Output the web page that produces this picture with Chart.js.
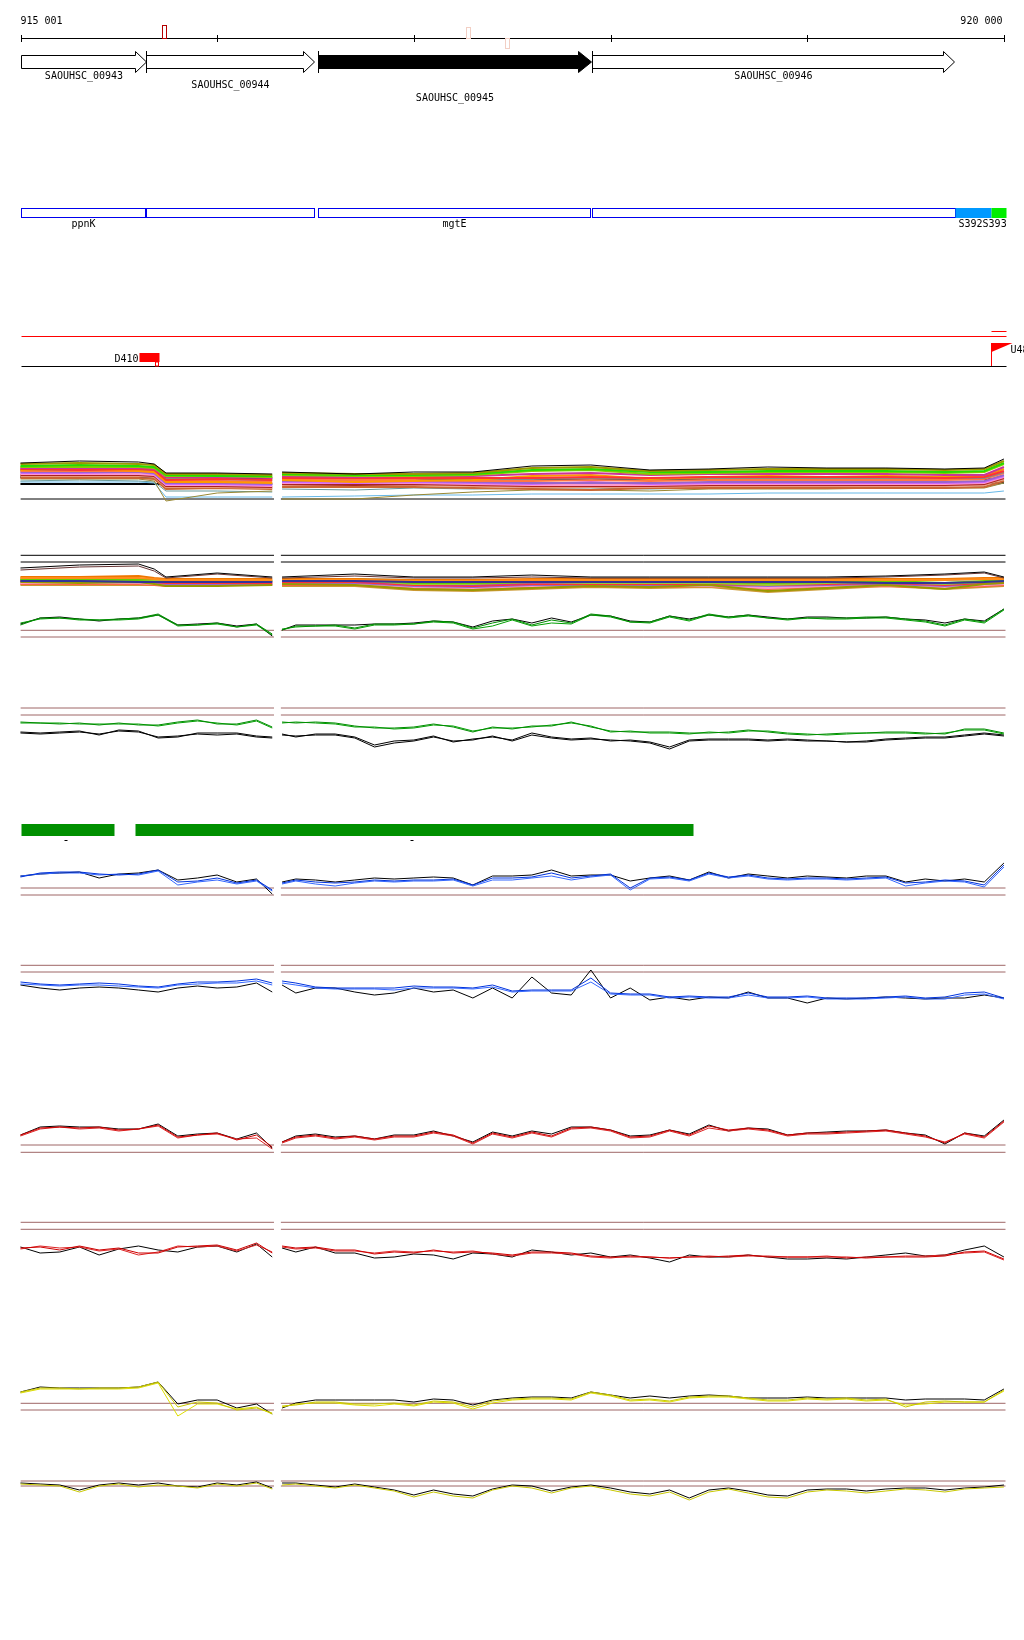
<!DOCTYPE html>
<html>
<head>
<meta charset="utf-8">
<title>SAOUHSC_00945 region</title>
<script src="https://cdn.jsdelivr.net/npm/chart.js@4.4.1/dist/chart.umd.min.js"></script>
<style>
  html, body { margin: 0; padding: 0; background: #fff; }
  body { position: relative; width: 1024px; height: 1640px; overflow: hidden; }
  canvas { position: absolute; left: 0; }
</style>
</head>
<body>
<script>
// window shown on the page (bp); the ruler itself runs 915 001 - 920 000
const viewMin = 914896;
const viewMax = 920102;

// ruler
const rulerStart = 915001;
const rulerEnd = 920000;
const rulerTicks = [915001, 916000, 917000, 918000, 919000, 920000];
const rulerLabels = ["915 001", "920 000"];

// variant marks sitting on the ruler
const markPos = [915721, 917265, 917463];

// genes
const geneNames = ["SAOUHSC_00943", "SAOUHSC_00944", "SAOUHSC_00945", "SAOUHSC_00946"];
const geneStart = [915001, 915636, 916512, 917905];
const geneEnd = [915638, 916492, 917899, 919746];

// operon / gene-name boxes
const operonNames = ["ppnK", "", "mgtE", ""];
const operonStart = [915001, 915640, 916513, 917904];
const operonEnd = [915633, 916490, 917898, 919751];
const featStart = [919751, 919934];
const featEnd = [919934, 920008];
const featLabel = "S392S393";

// transcription starts
const tssNames = ["D410", "U48"];
const tssStart = [915602, 919934];
const tssEnd = [915703, 920040];

// green blocks
const blockStart = [915001, 915582];
const blockEnd = [915476, 918419];
const blockMid = [915226, 916988];

// sampling positions of the profile tracks (916300 = gap between the two pieces)
const posFine = [915000, 915100, 915200, 915300, 915400, 915500, 915600, 915700, 915800, 915900, 916000, 916100, 916200, 916280,
  916300,
  916330, 916400, 916500, 916600, 916700, 916800, 916900, 917000, 917100, 917200, 917300, 917400, 917500, 917600, 917700,
  917800, 917900, 918000, 918100, 918200, 918300, 918400, 918500, 918600, 918700, 918800, 918900, 919000, 919100, 919200,
  919300, 919400, 919500, 919600, 919700, 919800, 919900, 920000];
const posCoarse = [915000, 915300, 915600, 915680, 915740, 916000, 916280, 916300, 916330, 916700, 917000, 917300, 917600,
  917900, 918200, 918500, 918800, 919100, 919400, 919700, 919900, 920000];
const refPos = [915001, 916289, 916300, 916324, 920008];

// track 1 - many samples
const t1Black = [42, 44, 43, 41, 32, 32, 31, null, 33, 31, 33, 33, 39, 40, 35, 36, 38, 37, 37, 36, 37, 46];
const t1Olive = [41, 42, 41, 40, 31, 31, 30, null, 32, 31, 31, 32, 37, 38, 34, 35, 36, 36, 36, 35, 36, 44];
const t1Green = [39, 40, 39, 38, 30, 29, 29, null, 31, 30, 30, 31, 35, 36, 33, 33, 34, 34, 34, 33, 34, 42];
const t1Lime = [38, 38, 38, 37, 29, 29, 28, null, 30, 29, 29, 30, 34, 35, 31, 32, 33, 33, 33, 32, 33, 41];
const t1Magenta = [37, 37, 37, 36, 28, 28, 27, null, 29, 28, 29, 29, 31, 32, 30, 31, 31, 31, 31, 30, 30, 38];
const t1Red = [36, 35, 36, 35, 25, 26, 25, null, 27, 27, 27, 27, 27, 28, 27, 28, 28, 28, 28, 27, 28, 34];
const t1Orange = [35, 36, 34, 33, 23, 23, 22, null, 25, 23, 24, 25, 29, 30, 26, 28, 29, 28, 29, 28, 29, 36];
const t1Gray = [35, 35, 35, 34, 26, 26, 25, null, 28, 27, 27, 26, 26, 27, 26, 27, 27, 27, 27, 27, 27, 33];
const t1Coral = [34, 34, 34, 33, 24, 24, 23, null, 26, 25, 25, 24, 24, 25, 24, 25, 25, 25, 25, 25, 26, 32];
const t1Purple = [33, 33, 33, 32, 22, 22, 21, null, 24, 24, 24, 23, 22, 22, 22, 23, 23, 23, 23, 23, 24, 30];
const t1Violet = [32, 32, 33, 31, 21, 21, 20, null, 23, 22, 23, 22, 21, 23, 21, 22, 22, 22, 22, 22, 23, 29];
const t1Pink = [31, 31, 31, 30, 20, 20, 19, null, 22, 22, 22, 21, 20, 20, 20, 21, 21, 21, 21, 21, 22, 28];
const t1DarkRed = [30, 30, 30, 29, 19, 19, 18, null, 21, 20, 21, 20, 19, 19, 19, 20, 20, 20, 20, 20, 21, 27];
const t1Salmon = [29, 29, 29, 28, 18, 18, 17, null, 20, 20, 20, 19, 18, 18, 18, 19, 19, 19, 19, 19, 20, 26];
const t1Tan = [27, 27, 27, 26, 16, 17, 16, null, 18, 18, 18, 17, 16, 15, 17, 17, 17, 17, 17, 17, 18, 24];
const t1Brown = [26, 26, 26, 24, 4, 12, 14, null, 6, 6, 10, 13, 15, 15, 14, 16, 16, 16, 17, 17, 17, 22];
const t1Teal = [24, 25, 24, 23, 14, 14, 13, null, 16, 15, 17, 16, 17, 17, 16, 17, 17, 17, 17, 17, 18, 22];
const t1Sky = [23, 23, 23, 22, 8, 8, 8, null, 8, 9, 10, 10, 11, 11, 11, 11, 12, 12, 12, 12, 12, 14];
const t1Bar1 = [28, 28, 28, 28, 27, 27, 27, null, 26, 26, 26, 26, 26, 26, 26, 26, 26, 26, 26, 26, 26, 26];
const t1Bar2 = [21, 21, 21, 21, 21, 21, 21, null, 22, 22, 22, 22, 22, 22, 22, 22, 22, 22, 22, 22, 22, 22];
const t1Refs = [6];

// track 2 - many samples
const t2Black = [32, 35, 36, 31, 23, 27, 23, null, 23, 26, 23, 23, 25, 23, 23, 23, 23, 23, 24, 26, 28, 23];
const t2Brown = [30, 33, 34, 29, 22, 26, 22, null, 22, 24, 22, 22, 23, 22, 22, 22, 22, 22, 23, 25, 27, 22];
const t2Orange = [22, 22, 22, 21, 20, 20, 20, null, 20, 20, 19, 19, 20, 20, 20, 20, 20, 20, 20, 20, 21, 21];
const t2Orange2 = [23, 23, 24, 22, 21, 21, 21, null, 21, 21, 20, 20, 21, 21, 21, 21, 21, 21, 21, 21, 22, 22];
const t2Olive = [18, 17, 18, 16, 14, 14, 15, null, 16, 15, 11, 10, 12, 14, 13, 15, 9, 12, 15, 11, 16, 17];
const t2Green = [21, 21, 20, 21, 21, 19, 19, null, 21, 21, 17, 17, 18, 18, 18, 18, 17, 18, 19, 17, 19, 20];
const t2Lime = [20, 21, 20, 19, 19, 20, 19, null, 20, 20, 16, 16, 18, 17, 17, 17, 15, 17, 18, 16, 18, 19];
const t2Magenta = [20, 20, 19, 19, 18, 18, 18, null, 19, 19, 16, 15, 17, 17, 17, 17, 16, 17, 17, 16, 18, 19];
const t2Red = [19, 19, 19, 18, 17, 17, 17, null, 18, 18, 15, 14, 16, 16, 16, 16, 15, 16, 17, 15, 17, 18];
const t2Sky = [20, 20, 20, 20, 19, 19, 19, null, 21, 21, 20, 19, 20, 20, 20, 21, 20, 21, 21, 20, 21, 21];
const t2Purple = [18, 18, 18, 17, 16, 16, 16, null, 17, 17, 14, 13, 15, 15, 15, 15, 14, 15, 16, 14, 16, 17];
const t2Pink = [17, 17, 17, 16, 15, 15, 15, null, 16, 16, 13, 12, 14, 14, 14, 14, 12, 14, 15, 13, 15, 16];
const t2Coral = [16, 16, 16, 15, 14, 15, 16, null, 15, 15, 12, 11, 13, 14, 13, 14, 11, 13, 14, 12, 14, 15];
const t2Tan = [15, 15, 15, 15, 16, 15, 15, null, 14, 14, 10, 9, 11, 13, 12, 13, 8, 11, 14, 11, 13, 14];
const t2Navy = [19, 19, 18, 18, 18, 18, 18, null, 19, 19, 18, 18, 18, 18, 18, 18, 18, 18, 17, 17, 18, 19];
const t2Refs = [44.7, 38];

// green profiles
const g1Green = [15, 22, 22, 21, 20, 21, 22, 26, 15, 15, 17, 13, 16, 6, null,
  10, 14, 14, 15, 12, 16, 16, 16, 19, 18, 12, 17, 21, 15, 20, 17, 26, 24, 18, 18, 24, 20, 26, 23, 25, 22, 21, 22, 22, 22, 23, 23, 21, 19, 15, 21, 18, 31];
const g1Green2 = [17, 21, 22, 20, 20, 20, 21, 25, 14, 15, 16, 13, 15, 5, null,
  11, 13, 14, 14, 11, 15, 15, 16, 18, 17, 11, 14, 20, 14, 17, 16, 25, 23, 18, 17, 23, 19, 25, 22, 24, 22, 20, 22, 21, 21, 22, 22, 20, 18, 14, 20, 17, 30];
const g1Black = [16, 22, 23, 21, 19, 21, 22, 25, 15, 16, 17, 14, 16, 4, null,
  10, 15, 15, 15, 15, 16, 16, 17, 19, 18, 13, 19, 21, 17, 22, 18, 25, 24, 19, 18, 24, 21, 25, 23, 25, 23, 21, 23, 23, 22, 22, 23, 21, 20, 17, 21, 19, 31];
const g1Refs = [9.7, 3];

const g2Green = [33, 32, 31, 32, 30, 32, 30, 30, 33, 35, 31, 31, 35, 28, null,
  33, 32, 33, 32, 29, 27, 27, 28, 31, 28, 23, 28, 26, 29, 29, 33, 28, 24, 23, 23, 23, 22, 22, 23, 25, 23, 21, 20, 21, 22, 22, 23, 23, 22, 21, 26, 26, 22];
const g2Green2 = [32, 32, 32, 31, 31, 31, 31, 29, 32, 34, 32, 30, 34, 27, null,
  32, 33, 32, 31, 28, 28, 26, 27, 30, 29, 24, 27, 27, 28, 30, 32, 29, 23, 24, 22, 22, 21, 23, 22, 24, 24, 22, 21, 20, 21, 22, 22, 22, 21, 22, 25, 25, 21];
const g2Black = [23, 22, 23, 24, 20, 25, 24, 17, 18, 22, 22, 22, 19, 18, null,
  21, 18, 21, 21, 18, 10, 14, 15, 19, 13, 16, 18, 15, 22, 18, 16, 17, 14, 15, 13, 8, 15, 16, 16, 16, 15, 16, 15, 14, 13, 14, 16, 17, 18, 18, 20, 22, 20];
const g2Black2 = [22, 21, 22, 23, 21, 24, 23, 18, 19, 21, 20, 21, 18, 17, null,
  20, 19, 20, 20, 17, 8, 12, 14, 18, 14, 15, 19, 14, 20, 17, 15, 16, 15, 14, 12, 6, 14, 15, 15, 15, 14, 15, 14, 14, 13, 13, 15, 16, 17, 17, 19, 21, 19];
const g2Refs = [47, 40];

// blue profiles
const b1Blue = [23, 27, 28, 28, 26, 25, 26, 30, 18, 19, 22, 17, 20, 10, null,
  17, 20, 18, 17, 18, 20, 19, 20, 20, 21, 15, 22, 22, 23, 27, 22, 24, 26, 12, 22, 23, 20, 27, 23, 25, 22, 21, 22, 22, 21, 22, 23, 17, 18, 20, 19, 15, 35];
const b1Blue2 = [24, 26, 27, 27, 25, 26, 25, 29, 15, 18, 20, 16, 19, 9, null,
  16, 19, 16, 14, 17, 19, 18, 19, 19, 20, 14, 20, 20, 22, 24, 20, 23, 25, 10, 21, 22, 19, 26, 22, 24, 21, 20, 21, 21, 20, 21, 22, 14, 17, 19, 18, 13, 33];
const b1Black = [24, 26, 27, 28, 22, 26, 27, 30, 20, 22, 25, 18, 21, 6, null,
  18, 21, 20, 18, 20, 22, 21, 22, 23, 22, 15, 24, 24, 25, 30, 24, 25, 25, 19, 22, 24, 20, 28, 22, 26, 24, 22, 24, 23, 22, 24, 24, 18, 21, 19, 21, 18, 37];
const b1Refs = [12, 5];

const b2Blue = [28, 26, 25, 26, 27, 26, 24, 23, 26, 28, 28, 29, 31, 27, null,
  29, 27, 23, 22, 22, 22, 22, 24, 23, 23, 22, 25, 19, 20, 20, 20, 32, 17, 16, 16, 13, 14, 13, 13, 17, 13, 13, 14, 12, 12, 12, 13, 14, 12, 13, 17, 18, 12];
const b2Blue2 = [26, 25, 24, 25, 25, 24, 23, 22, 25, 26, 27, 27, 29, 25, null,
  27, 25, 22, 21, 21, 21, 20, 22, 22, 22, 21, 23, 18, 19, 19, 19, 28, 16, 15, 15, 12, 13, 12, 12, 15, 12, 12, 13, 11, 11, 11, 12, 13, 11, 11, 15, 16, 11];
const b2Black = [25, 22, 20, 22, 23, 22, 20, 18, 22, 24, 22, 23, 27, 18, null,
  25, 17, 22, 22, 18, 15, 17, 22, 18, 20, 12, 22, 12, 33, 17, 15, 40, 12, 22, 10, 13, 10, 13, 12, 18, 12, 12, 7, 12, 11, 12, 13, 12, 11, 12, 12, 15, 12];
const b2Refs = [44.7, 38];

// red profiles
const r1Red = [25, 32, 33, 32, 33, 30, 31, 35, 23, 25, 27, 20, 25, 13, null,
  18, 23, 25, 22, 24, 21, 24, 24, 28, 25, 17, 27, 23, 28, 24, 32, 33, 30, 23, 24, 30, 25, 34, 30, 32, 30, 25, 27, 27, 28, 29, 30, 27, 24, 17, 27, 23, 39];
const r1Red2 = [24, 31, 33, 31, 32, 29, 31, 34, 22, 25, 26, 21, 22, 11, null,
  17, 22, 24, 21, 23, 20, 23, 23, 27, 24, 16, 26, 22, 27, 23, 31, 32, 29, 22, 23, 29, 24, 32, 29, 31, 29, 24, 26, 26, 27, 28, 29, 26, 23, 18, 26, 22, 38];
const r1Black = [25, 33, 34, 33, 33, 31, 31, 36, 24, 26, 27, 21, 27, 12, null,
  18, 24, 26, 23, 24, 21, 25, 25, 29, 24, 18, 28, 24, 29, 26, 33, 33, 30, 24, 25, 30, 26, 35, 29, 32, 31, 25, 27, 28, 29, 29, 30, 27, 25, 16, 27, 24, 40];
const r1Refs = [15, 7.7];

const r2Red = [17, 18, 15, 19, 15, 17, 12, 12, 18, 19, 20, 15, 22, 12, null,
  19, 17, 18, 15, 15, 11, 13, 12, 15, 12, 13, 12, 10, 13, 13, 12, 9, 8, 8, 8, 7, 8, 8, 9, 10, 8, 8, 8, 8, 8, 7, 8, 8, 8, 9, 13, 14, 6];
const r2Red2 = [16, 19, 17, 18, 14, 16, 10, 13, 19, 18, 19, 14, 20, 13, null,
  18, 16, 17, 14, 14, 12, 14, 13, 14, 13, 14, 11, 9, 12, 12, 11, 8, 7, 9, 8, 7, 8, 9, 8, 9, 9, 8, 8, 9, 7, 8, 8, 9, 9, 10, 12, 13, 5];
const r2Black = [18, 12, 13, 18, 10, 16, 19, 15, 13, 18, 19, 13, 21, 8, null,
  17, 13, 18, 12, 12, 7, 8, 11, 10, 6, 12, 11, 8, 15, 13, 10, 12, 8, 10, 7, 3, 10, 8, 8, 10, 8, 6, 6, 7, 6, 8, 10, 12, 9, 10, 15, 19, 8];
const r2Refs = [42.7, 35.7];

// yellow profiles
const y1Yellow = [28, 32, 32, 31, 32, 32, 33, 38, 13, 18, 17, 10, 12, 7, null,
  14, 15, 18, 18, 16, 16, 17, 15, 19, 18, 13, 19, 21, 22, 22, 21, 28, 25, 20, 21, 19, 23, 24, 24, 22, 20, 20, 22, 21, 22, 20, 21, 13, 18, 19, 18, 18, 30];
const y1Yellow2 = [27, 31, 31, 31, 31, 31, 32, 37, 4, 16, 16, 11, 13, 6, null,
  13, 16, 17, 17, 15, 14, 16, 14, 18, 17, 11, 17, 20, 21, 21, 20, 27, 24, 19, 20, 18, 22, 23, 23, 21, 19, 19, 21, 20, 21, 19, 20, 15, 16, 18, 18, 18, 29];
const y1Black = [28, 33, 32, 32, 32, 32, 33, 38, 16, 20, 20, 12, 16, 6, null,
  12, 17, 20, 20, 20, 20, 20, 18, 21, 20, 15, 20, 22, 23, 23, 22, 28, 25, 22, 24, 22, 24, 25, 24, 22, 22, 22, 23, 22, 22, 22, 22, 20, 21, 21, 21, 20, 31];
const y1Refs = [16.7, 10];

const y2Yellow = [26, 25, 24, 18, 24, 26, 23, 25, 24, 22, 26, 24, 27, 21, null,
  25, 26, 24, 22, 25, 22, 19, 13, 18, 14, 12, 20, 24, 22, 17, 22, 24, 20, 16, 14, 18, 10, 18, 21, 17, 13, 12, 18, 20, 19, 17, 19, 21, 20, 18, 21, 22, 23];
const y2Black = [27, 26, 25, 20, 25, 27, 25, 27, 24, 23, 27, 25, 28, 22, null,
  27, 27, 25, 23, 26, 23, 20, 15, 20, 16, 14, 21, 25, 24, 19, 23, 25, 22, 18, 16, 20, 12, 20, 22, 19, 15, 14, 20, 21, 21, 19, 21, 22, 22, 20, 22, 23, 25];
const y2Refs = [29, 24];

const FONT = '10px "DejaVu Sans Mono", monospace';
const BROWN = "#9e6666";

function baseOptions(yMax) {
  return {
    responsive: false,
    animation: false,
    devicePixelRatio: 1,
    events: [],
    layout: { padding: 0 },
    plugins: { legend: { display: false }, tooltip: { enabled: false } },
    scales: {
      x: { type: "linear", min: viewMin, max: viewMax, display: false },
      y: { min: 0, max: yMax, display: false },
    },
  };
}

function addCanvas(top, h) {
  const c = document.createElement("canvas");
  c.width = 1024;
  c.height = h;
  c.style.top = top + "px";
  document.body.appendChild(c);
  return c;
}

// header: ruler, genes, boxes, TSS, green blocks
const headerPlugin = {
  id: "header",
  afterDraw(chart) {
    const sx = (v) => Math.round(chart.scales.x.getPixelForValue(v)) + 0.5;
    const ctx = chart.ctx;
    ctx.save();
    ctx.lineWidth = 1;
    ctx.font = FONT;
    ctx.textBaseline = "alphabetic";

    // ruler
    ctx.strokeStyle = "#000";
    ctx.beginPath();
    ctx.moveTo(sx(rulerStart), 38.5);
    ctx.lineTo(sx(rulerEnd), 38.5);
    rulerTicks.forEach((t) => {
      ctx.moveTo(sx(t), 35);
      ctx.lineTo(sx(t), 42);
    });
    ctx.stroke();
    ctx.fillStyle = "#000";
    ctx.textAlign = "left";
    ctx.fillText(rulerLabels[0], sx(rulerStart) - 1, 24);
    ctx.textAlign = "right";
    ctx.fillText(rulerLabels[1], sx(rulerEnd) - 2, 24);

    // marks on the ruler
    const markColor = ["#b40000", "#f2cfc4", "#f2cfc4"];
    const markTop = [25, 27, 38];
    const markBot = [38, 38, 48];
    markPos.forEach((m, i) => {
      ctx.strokeStyle = markColor[i];
      ctx.strokeRect(sx(m), markTop[i] + 0.5, 4, markBot[i] - markTop[i]);
    });

    // genes
    const labelY = [79, 88, 101, 79];
    geneStart.forEach((s, i) => {
      const x0 = sx(s), x1 = sx(geneEnd[i]);
      const head = i === 2 ? 13 : 11;
      ctx.beginPath();
      ctx.moveTo(x0, 55.5);
      ctx.lineTo(x1 - head, 55.5);
      ctx.lineTo(x1 - head, 51.5);
      ctx.lineTo(x1, 62);
      ctx.lineTo(x1 - head, 72.5);
      ctx.lineTo(x1 - head, 68.5);
      ctx.lineTo(x0, 68.5);
      ctx.closePath();
      ctx.fillStyle = i === 2 ? "#000" : "#fff";
      ctx.fill();
      ctx.strokeStyle = "#000";
      ctx.stroke();
      if (i > 0) {
        ctx.beginPath();
        ctx.moveTo(x0, 51);
        ctx.lineTo(x0, 73);
        ctx.stroke();
      }
      ctx.fillStyle = "#000";
      ctx.textAlign = "center";
      ctx.fillText(geneNames[i], (x0 + x1) / 2, labelY[i]);
    });

    // operon boxes
    ctx.strokeStyle = "#0000ee";
    operonStart.forEach((s, i) => {
      const x0 = sx(s), x1 = sx(operonEnd[i]);
      ctx.strokeRect(x0, 208.5, x1 - x0, 9);
      if (operonNames[i]) {
        ctx.fillStyle = "#000";
        ctx.textAlign = "center";
        ctx.fillText(operonNames[i], (x0 + x1) / 2, 227);
      }
    });
    const featColor = ["#0099ff", "#00ee00"];
    featStart.forEach((s, i) => {
      ctx.fillStyle = featColor[i];
      ctx.fillRect(sx(s), 208, sx(featEnd[i]) - sx(s), 10);
    });
    ctx.fillStyle = "#000";
    ctx.textAlign = "left";
    ctx.fillText(featLabel, sx(featStart[0]) + 3, 227);

    // TSS track
    ctx.strokeStyle = "#ff0000";
    ctx.beginPath();
    ctx.moveTo(sx(rulerStart), 336.5);
    ctx.lineTo(sx(featEnd[1]), 336.5);
    ctx.moveTo(sx(tssStart[1]), 331.5);
    ctx.lineTo(sx(featEnd[1]), 331.5);
    ctx.stroke();
    ctx.strokeStyle = "#000";
    ctx.beginPath();
    ctx.moveTo(sx(rulerStart), 366.5);
    ctx.lineTo(sx(featEnd[1]), 366.5);
    ctx.stroke();

    // D410 block
    ctx.fillStyle = "#ff0000";
    const d0 = sx(tssStart[0]), d1 = sx(tssEnd[0]);
    ctx.fillRect(d0, 353, d1 - d0, 9);
    ctx.strokeStyle = "#ff0000";
    ctx.strokeRect(d1 - 4, 362, 3, 4);
    ctx.fillStyle = "#000";
    ctx.textAlign = "right";
    ctx.fillText(tssNames[0], d0 - 1, 362);

    // U48 flag
    const u0 = sx(tssStart[1]), u1 = sx(tssEnd[1]);
    ctx.strokeStyle = "#ff0000";
    ctx.beginPath();
    ctx.moveTo(u0, 343);
    ctx.lineTo(u0, 366);
    ctx.stroke();
    ctx.fillStyle = "#ff0000";
    ctx.beginPath();
    ctx.moveTo(u0, 343);
    ctx.lineTo(u1, 343);
    ctx.lineTo(u0, 352);
    ctx.closePath();
    ctx.fill();
    ctx.fillStyle = "#000";
    ctx.textAlign = "left";
    ctx.fillText(tssNames[1], u1 - 2, 353);

    // green blocks
    ctx.fillStyle = "#009000";
    blockStart.forEach((s, i) => {
      ctx.fillRect(sx(s), 824, sx(blockEnd[i]) - sx(s), 12);
    });
    ctx.fillStyle = "#000";
    blockMid.forEach((m) => ctx.fillRect(sx(m) - 1, 840, 3, 1));

    ctx.restore();
  },
};

new Chart(addCanvas(0, 1640), {
  type: "line",
  data: { datasets: [] },
  options: baseOptions(1640),
  plugins: [headerPlugin],
});

// one profile track
function track(top, h, pos, lines, refs, refColor) {
  const datasets = lines.map(([vals, color, width]) => ({
    data: pos.map((x, i) => ({ x: x, y: vals[i] })),
    borderColor: color,
    borderWidth: width || 1,
    pointRadius: 0,
    tension: 0,
    fill: false,
    clip: false,
  }));
  refs.forEach((level) => {
    datasets.push({
      data: refPos.map((x, i) => ({ x: x, y: i === 2 ? null : level })),
      borderColor: refColor,
      borderWidth: 1,
      pointRadius: 0,
      clip: false,
    });
  });
  new Chart(addCanvas(top, h), {
    type: "line",
    data: { datasets },
    options: baseOptions(h),
  });
}

track(455, 50, posCoarse, [
  [t1Black, "#000000"], [t1Olive, "#9a9a00", 2], [t1Green, "#22dd00", 2], [t1Lime, "#88cc00", 2],
  [t1Magenta, "#cc3399", 2], [t1Red, "#ff3333", 2], [t1Orange, "#ff9900", 2], [t1Gray, "#888888", 2],
  [t1Coral, "#ff7744", 2], [t1Purple, "#9966cc", 2], [t1Violet, "#cc66ff", 2], [t1Pink, "#ff99cc", 2],
  [t1DarkRed, "#aa2222", 2], [t1Salmon, "#e9967a", 2], [t1Tan, "#cc6633", 2], [t1Brown, "#998833"],
  [t1Teal, "#669999"], [t1Sky, "#66b8e8"], [t1Bar1, "#000000", 2], [t1Bar2, "#000000", 2],
], t1Refs, "#000000");

track(550, 50, posCoarse, [
  [t2Black, "#000000"], [t2Brown, "#663333"], [t2Navy, "#333399", 2], [t2Orange, "#ff8c1a", 2],
  [t2Orange2, "#ee7700", 2], [t2Olive, "#999900", 2], [t2Green, "#66cc00", 2], [t2Lime, "#99cc33", 2],
  [t2Magenta, "#cc3399", 2], [t2Red, "#ff3333", 2], [t2Sky, "#66b8e8", 2], [t2Purple, "#9966cc", 2],
  [t2Pink, "#ff99cc", 2], [t2Coral, "#ff6347", 2], [t2Tan, "#cc9933", 2],
], t2Refs, "#000000");

track(600, 40, posFine, [[g1Green, "#008c00"], [g1Green2, "#00a000"], [g1Black, "#000000"]], g1Refs, BROWN);
track(700, 55, posFine, [[g2Green, "#008c00"], [g2Green2, "#00a000"], [g2Black, "#000000"], [g2Black2, "#000000"]], g2Refs, BROWN);
track(850, 50, posFine, [[b1Blue, "#0033dd"], [b1Blue2, "#3366ff"], [b1Black, "#000000"]], b1Refs, BROWN);
track(960, 50, posFine, [[b2Blue, "#0033dd"], [b2Blue2, "#3366ff"], [b2Black, "#000000"]], b2Refs, BROWN);
track(1115, 45, posFine, [[r1Red, "#cc0000"], [r1Red2, "#dd2222"], [r1Black, "#000000"]], r1Refs, BROWN);
track(1220, 45, posFine, [[r2Red, "#cc0000"], [r2Red2, "#dd2222"], [r2Black, "#000000"]], r2Refs, BROWN);
track(1375, 45, posFine, [[y1Yellow, "#c8c800"], [y1Yellow2, "#dddd00"], [y1Black, "#000000"]], y1Refs, BROWN);
track(1470, 40, posFine, [[y2Yellow, "#c8c800"], [y2Black, "#000000"]], y2Refs, BROWN);
</script>
</body>
</html>
